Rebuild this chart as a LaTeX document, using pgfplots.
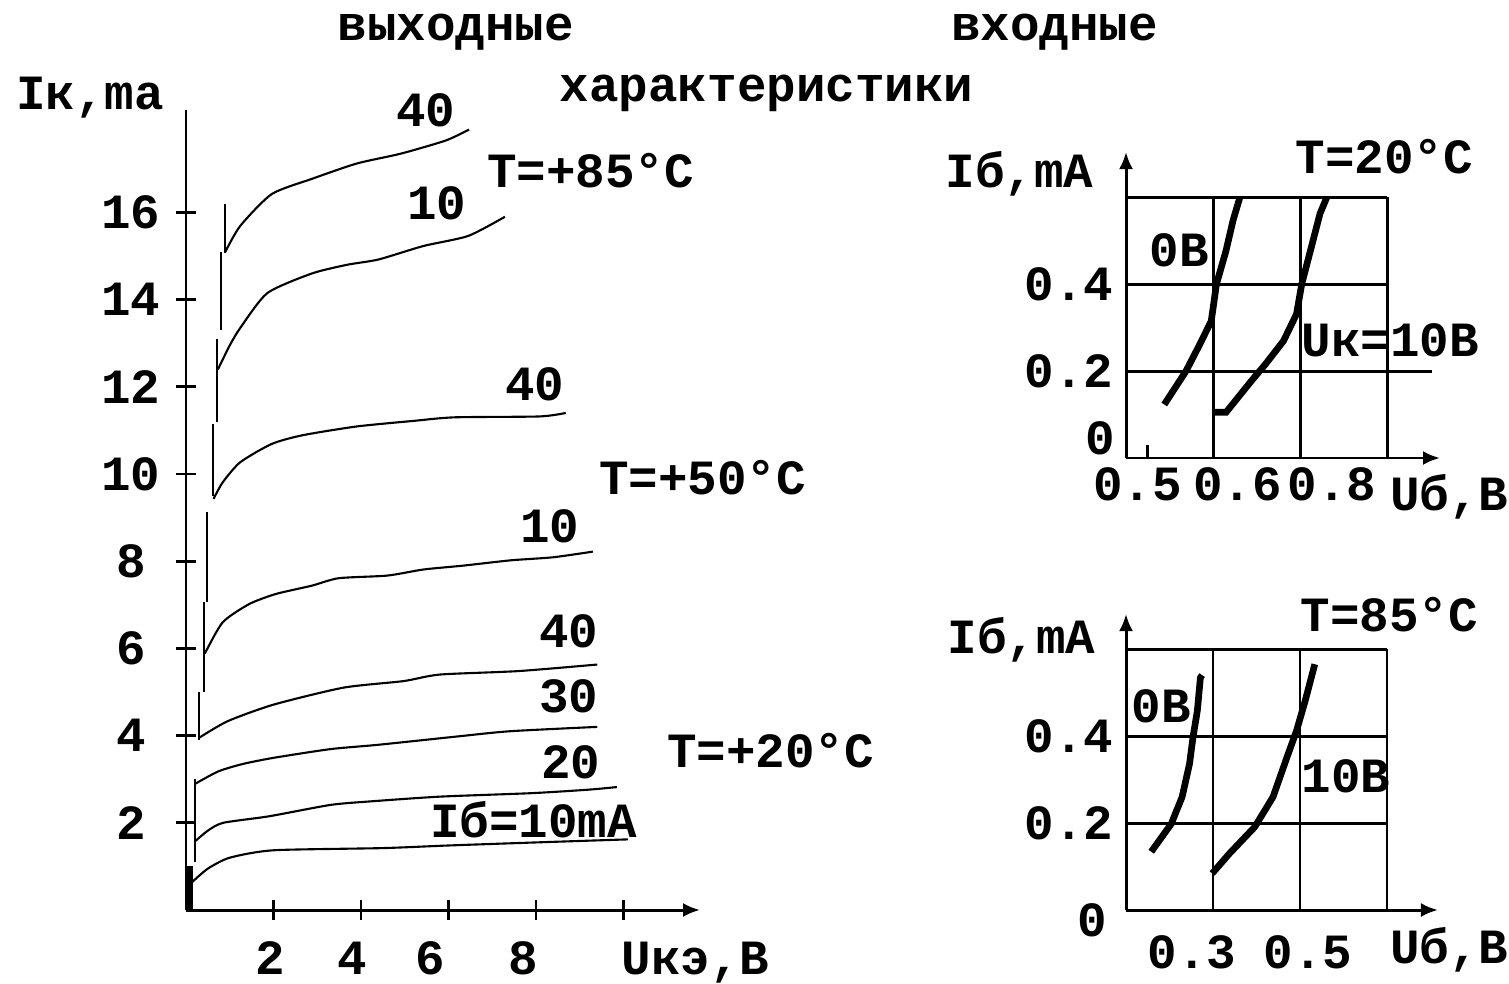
\documentclass[border=0pt]{standalone}
\usepackage{fontspec}
\setmainfont{Liberation Mono}
\usepackage{pgfplots}
\pgfplotsset{compat=1.18}
\usetikzlibrary{arrows.meta}

\newcommand{\lbl}{\bfseries\fontsize{14}{16}\selectfont}

\begin{document}
\begin{tikzpicture}[font=\lbl]
\useasboundingbox (0,0) rectangle (15.09cm,9.83cm);

\pgfplotsset{
  every axis/.append style={
    scale only axis, clip=false,
    axis lines*=left,
    axis line style={black, line width=0.85pt},
    tick style={black, line width=0.85pt},
    tick label style={font=\lbl, inner sep=1pt},
    /pgf/number format/assume math mode=true,
  }
}

% ---------------- output characteristics ----------------
\begin{axis}[
  at={(1.86cm,0.73cm)}, anchor=south west,
  x=0.4375cm, y=0.436cm,
  xmin=0, xmax=11.75, ymin=0, ymax=18.35,
  x axis line style={-{Latex[length=0.17cm,width=0.14cm]}},
  xtick={2,4,6,8,10}, xticklabels={,,,,},
  extra x ticks={1.92,3.79,5.59,7.70}, extra x tick labels={2,4,6,8},
  extra x tick style={major tick length=0pt},
  xticklabel style={anchor=center, yshift=-0.48cm},
  ytick={2,4,6,8,10,12,14,16},
  yticklabels={2,4,6,8,10,12,14,16},
  yticklabel style={anchor=center, xshift=-0.45cm},
  tick align=center, major tick length=0.2cm,
  unbounded coords=jump,
]
% saturation (steep) region
\addplot[line width=1.8pt] coordinates {(0.08,0) (0.08,1.0)};
\addplot[line width=0.6pt] coordinates {
 (0.20,1.1) (0.20,3.0) (0.20,nan)
 (0.30,3.9) (0.30,5.0) (0.30,nan)
 (0.41,5.0) (0.41,7.06) (0.41,nan)
 (0.48,7.06) (0.48,9.12) (0.48,nan)
 (0.61,9.5) (0.61,11.15) (0.61,nan)
 (0.70,11.2) (0.70,13.1) (0.70,nan)
 (0.79,13.3) (0.79,15.1) (0.79,nan)
 (0.89,15.08) (0.89,16.2)};
% T = +20 C
\addplot[line width=0.6pt, smooth, tension=0.4] coordinates {(0.14,0.64) (0.5,0.95) (1.0,1.2) (2.0,1.37) (4.5,1.42) (6.0,1.48) (8.0,1.55) (10.1,1.62)};
\addplot[line width=0.6pt, smooth, tension=0.4] coordinates {(0.2,1.57) (0.5,1.82) (0.85,2.0) (1.9,2.15) (3.3,2.41) (4.2,2.49) (5.8,2.6) (7.9,2.68) (9.2,2.76) (9.85,2.82)};
\addplot[line width=0.6pt, smooth, tension=0.4] coordinates {(0.22,2.9) (0.74,3.18) (1.3,3.35) (2.0,3.49) (3.3,3.69) (4.4,3.79) (6.2,3.98) (7.4,4.1) (9.4,4.2)};
\addplot[line width=0.6pt, smooth, tension=0.4] coordinates {(0.3,3.95) (0.95,4.33) (2.0,4.71) (3.6,5.1) (4.97,5.25) (5.8,5.4) (7.6,5.48) (9.4,5.63)};
% T = +50 C
\addplot[line width=0.6pt, smooth, tension=0.4] coordinates {(0.43,5.88) (0.84,6.6) (1.45,7.02) (2.06,7.25) (2.88,7.44) (3.49,7.61) (4.6,7.67) (5.43,7.81) (6.35,7.9) (7.42,8.02) (8.39,8.09) (9.3,8.22)};
\addplot[line width=0.6pt, smooth, tension=0.4] coordinates {(0.63,9.43) (0.84,9.81) (1.24,10.27) (1.96,10.69) (2.67,10.89) (3.9,11.09) (5.22,11.22) (6.14,11.3) (8.08,11.32) (8.68,11.4)};
% T = +85 C
\addplot[line width=0.6pt, smooth, tension=0.4] coordinates {(0.73,12.4) (1.0,12.95) (1.24,13.35) (1.86,14.15) (2.88,14.6) (3.69,14.8) (4.4,14.92) (5.43,15.23) (6.45,15.46) (7.29,15.9)};
\addplot[line width=0.6pt, smooth, tension=0.4] coordinates {(0.89,15.08) (1.24,15.69) (1.96,16.42) (2.88,16.77) (3.9,17.12) (4.92,17.35) (5.94,17.65) (6.47,17.9)};
\end{axis}

% ---------------- input characteristics, T = 20 C ----------------
\begin{axis}[
  at={(11.26cm,5.25cm)}, anchor=south west,
  x=8.7cm, y=4.35cm,
  xmin=0.5, xmax=0.8, ymin=0, ymax=0.6,
  x axis line style={-{Latex[length=0.17cm,width=0.14cm]}, shorten >=-0.53cm},
  y axis line style={-{Latex[length=0.17cm,width=0.14cm]}, shorten >=-0.45cm},
  grid=major, grid style={black, line width=0.85pt},
  xtick={0.6,0.7,0.8}, xticklabels={,,},
  ytick={0.2,0.4,0.6}, yticklabels={0.2,0.4,},
  major tick length=0pt,
  extra x ticks={0.513,0.628,0.737}, extra x tick labels={0.5,0.6,0.8},
  extra x tick style={grid=none},
  xticklabel style={anchor=center, yshift=-0.26cm},
  yticklabel style={anchor=center, xshift=-0.57cm},
]
\draw[line width=0.85pt] (axis cs:0.525,0) -- (axis cs:0.525,0.03);
\draw[line width=0.85pt] (axis cs:0.8,0.2) -- (axis cs:0.852,0.2);
\addplot[line width=1.9pt] coordinates {(0.544,0.123) (0.569,0.2) (0.585,0.262) (0.598,0.315) (0.604,0.4) (0.615,0.477) (0.623,0.546) (0.631,0.6)};
\addplot[line width=1.9pt] coordinates {(0.602,0.105) (0.615,0.105) (0.644,0.177) (0.660,0.215) (0.681,0.269) (0.696,0.331) (0.702,0.4) (0.715,0.5) (0.723,0.562) (0.731,0.6)};
\node[inner sep=0pt] at (axis cs:0.470,0.045) {0};
\end{axis}

% ---------------- input characteristics, T = 85 C ----------------
\begin{axis}[
  at={(11.26cm,0.73cm)}, anchor=south west,
  x=4.35cm, y=4.35cm,
  xmin=0.1, xmax=0.7, ymin=0, ymax=0.6,
  x axis line style={-{Latex[length=0.17cm,width=0.14cm]}, shorten >=-0.51cm},
  y axis line style={-{Latex[length=0.17cm,width=0.14cm]}, shorten >=-0.35cm},
  grid=major, grid style={black, line width=0.85pt},
  xtick={0.3,0.5,0.7}, xticklabels={,,},
  ytick={0.2,0.4,0.6}, yticklabels={0.2,0.4,},
  major tick length=0pt,
  extra x ticks={0.252,0.518}, extra x tick labels={0.3,0.5},
  extra x tick style={grid=none},
  xticklabel style={anchor=center, yshift=-0.42cm},
  yticklabel style={anchor=center, xshift=-0.57cm},
]
\addplot[line width=1.9pt] coordinates {(0.158,0.134) (0.204,0.198) (0.229,0.26) (0.246,0.336) (0.254,0.397) (0.264,0.458) (0.271,0.534) (0.275,0.54)};
\addplot[line width=1.9pt] coordinates {(0.298,0.084) (0.338,0.13) (0.396,0.191) (0.438,0.26) (0.47,0.351) (0.492,0.412) (0.512,0.481) (0.534,0.565)};
\node[inner sep=0pt] at (axis cs:0.022,-0.023) {0};
\end{axis}

% ---------------- texts (pixel coordinates) ----------------
\begin{scope}[x=0.01cm, y=-0.01cm, shift={(0,9.83cm)}]
\node at (456,32) {выходные};
\node at (1055,32) {входные};
\node at (767,93) {характеристики};
\node at (90,98) {Iк,ma};
\node at (696,963) {Uкэ,В};
\node at (426,110) {40};
\node at (591,171) {T=+85°C};
\node at (437,203) {10};
\node at (535,384) {40};
\node at (703,478) {T=+50°C};
\node at (550,527) {10};
\node at (569,632) {40};
\node at (569,697) {30};
\node at (571,763) {20};
\node at (534,820) {Iб=10mA};
\node at (771,751) {T=+20°C};
% top right
\node at (1020,174) {Iб,mA};
\node at (1385,157) {T=20°C};
\node at (1180,250) {0В};
\node at (1391,340) {Uк=10В};
\node at (1450,497) {Uб,В};
% bottom right
\node at (1022,640) {Iб,mA};
\node at (1390,615) {T=85°C};
\node at (1162,707) {0В};
\node at (1347,777) {10В};
\node at (1450,950) {Uб,В};
\end{scope}
\end{tikzpicture}
\end{document}
